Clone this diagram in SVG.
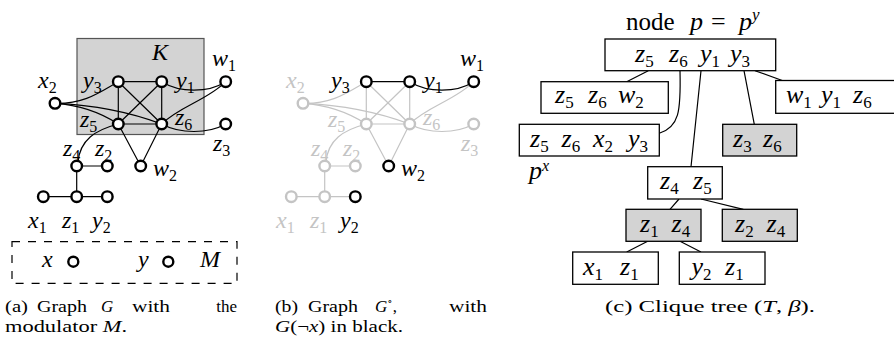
<svg xmlns="http://www.w3.org/2000/svg" width="894" height="347" viewBox="0 0 894 347">
<style>
text{font-family:"Liberation Serif","Times New Roman","DejaVu Serif",serif}
.m{font-style:italic;font-size:24px;fill:#000}
.g{fill:#c4c4c4}
.s{font-style:normal;font-size:16px}
.t{font-style:italic;font-size:26px;fill:#000}
.ts{font-style:normal;font-size:17px}
.up{font-style:normal}
.cap{font-size:17px;fill:#000}
.i{font-style:italic}
.n{fill:#fff;stroke:#000;stroke-width:2.4}
.ng{fill:#fff;stroke:#c4c4c4;stroke-width:2.4}
.e{fill:none;stroke:#000;stroke-width:1.2}
.eg{fill:none;stroke:#c4c4c4;stroke-width:1.2}
.box{fill:#fff;stroke:#000;stroke-width:1.3}
.gb{fill:#d3d3d3;stroke:#000;stroke-width:1.3}
</style>

<!-- Panel (a) -->
<rect id="K" x="77" y="38.5" width="127" height="96" fill="#d3d3d3" stroke="#555" stroke-width="1.2"/>
<rect id="M" x="12" y="241.7" width="225" height="41.6" fill="none" stroke="#000" stroke-width="1.2" stroke-dasharray="8 8"/>
<g id="edges-a">
<path class="e" d="M118.3,81.7 L161.7,81.7 M118.3,81.7 L118.3,124 M161.7,81.7 L161.7,124 M118.3,124 L161.7,124 M118.3,81.7 L161.7,124 M161.7,81.7 L118.3,124 M118.3,124 L140.7,166 M161.7,124 L140.7,166 M76.7,166 L107.3,166 M76.7,166 L76.7,196.7 M43.3,196.7 L107.3,196.7"/>
<path class="e" d="M55,103.3 C85,104 100,92 118.3,81.7"/>
<path class="e" d="M55,103.3 C80,105 100,112 118.3,124"/>
<path class="e" d="M55,103.3 C95,105 130,112 161.7,124"/>
<path class="e" d="M161.7,81.7 C180,93 208,93 225.7,81.7"/>
<path class="e" d="M161.7,124 C180,106 208,100 225.7,81.7"/>
<path class="e" d="M161.7,124 C180,134 208,134 225.7,124"/>
<path class="e" d="M118.3,124 C95,130 80,140 78,162"/>
</g>
<g id="a-y3"><circle class="n" cx="118.3" cy="81.7" r="5.3"/><text class="m" x="83" y="88">y<tspan class="s" dy="5">3</tspan></text></g>
<g id="a-y1"><circle class="n" cx="161.7" cy="81.7" r="5.3"/><text class="m" x="176" y="88">y<tspan class="s" dy="5">1</tspan></text></g>
<g id="a-w1"><circle class="n" cx="225.7" cy="81.7" r="5.3"/><text class="m" x="212" y="66">w<tspan class="s" dy="5">1</tspan></text></g>
<g id="a-x2"><circle class="n" cx="55" cy="103.3" r="5.3"/><text class="m" x="38" y="88">x<tspan class="s" dy="5">2</tspan></text></g>
<g id="a-z5"><circle class="n" cx="118.3" cy="124" r="5.3"/><text class="m" x="80" y="127">z<tspan class="s" dy="5">5</tspan></text></g>
<g id="a-z6"><circle class="n" cx="161.7" cy="124" r="5.3"/><text class="m" x="175" y="125">z<tspan class="s" dy="5">6</tspan></text></g>
<g id="a-z3"><circle class="n" cx="225.7" cy="124" r="5.3"/><text class="m" x="213" y="151">z<tspan class="s" dy="5">3</tspan></text></g>
<g id="a-w2"><circle class="n" cx="140.7" cy="166" r="5.3"/><text class="m" x="153" y="176">w<tspan class="s" dy="5">2</tspan></text></g>
<g id="a-z4"><circle class="n" cx="76.7" cy="166" r="5.3"/><text class="m" x="63" y="156">z<tspan class="s" dy="5">4</tspan></text></g>
<g id="a-z2"><circle class="n" cx="107.3" cy="166" r="5.3"/><text class="m" x="95" y="156">z<tspan class="s" dy="5">2</tspan></text></g>
<g id="a-x1"><circle class="n" cx="43.3" cy="196.7" r="5.3"/><text class="m" x="28" y="228">x<tspan class="s" dy="5">1</tspan></text></g>
<g id="a-z1"><circle class="n" cx="76.7" cy="196.7" r="5.3"/><text class="m" x="62" y="228">z<tspan class="s" dy="5">1</tspan></text></g>
<g id="a-y2"><circle class="n" cx="107.3" cy="196.7" r="5.3"/><text class="m" x="92" y="228">y<tspan class="s" dy="5">2</tspan></text></g>
<g id="a-x"><circle class="n" cx="73.3" cy="261.7" r="5"/><text class="m" x="42" y="267">x</text></g>
<g id="a-y"><circle class="n" cx="168.3" cy="261.7" r="5"/><text class="m" x="138" y="267">y</text></g>
<text class="m" x="200" y="267">M</text>
<text class="m" x="152" y="60">K</text>
<g id="cap-a">
<text class="cap" x="5" y="312" textLength="23" lengthAdjust="spacingAndGlyphs">(a)</text>
<text class="cap" x="37" y="312" textLength="50" lengthAdjust="spacingAndGlyphs">Graph</text>
<text class="cap i" x="101" y="312">G</text>
<text class="cap" x="132" y="312" textLength="38" lengthAdjust="spacingAndGlyphs">with</text>
<text class="cap" x="237" y="312" text-anchor="end">the</text>
<text class="cap" x="5" y="332" textLength="122" lengthAdjust="spacingAndGlyphs">modulator <tspan class="i">M</tspan>.</text>
</g>

<!-- Panel (b) -->
<g id="edges-b" transform="translate(248,0)">
<path class="eg" d="M118.3,81.7 L118.3,124 M161.7,81.7 L161.7,124 M118.3,124 L161.7,124 M118.3,81.7 L161.7,124 M161.7,81.7 L118.3,124 M118.3,124 L140.7,166 M161.7,124 L140.7,166 M76.7,166 L107.3,166 M76.7,166 L76.7,196.7 M43.3,196.7 L107.3,196.7"/>
<path class="eg" d="M55,103.3 C85,104 100,92 118.3,81.7"/>
<path class="eg" d="M55,103.3 C80,105 100,112 118.3,124"/>
<path class="eg" d="M55,103.3 C95,105 130,112 161.7,124"/>
<path class="eg" d="M161.7,124 C180,106 208,100 225.7,81.7"/>
<path class="eg" d="M161.7,124 C180,134 208,134 225.7,124"/>
<path class="eg" d="M118.3,124 C95,130 80,140 78,162"/>
<path class="e" d="M118.3,81.7 L161.7,81.7"/>
<path class="e" d="M161.7,81.7 C180,93 208,93 225.7,81.7"/>
</g>
<g transform="translate(248,0)">
<g id="b-y3"><circle class="n" cx="118.3" cy="81.7" r="5.3"/><text class="m" x="83" y="88">y<tspan class="s" dy="5">3</tspan></text></g>
<g id="b-y1"><circle class="n" cx="161.7" cy="81.7" r="5.3"/><text class="m" x="176" y="88">y<tspan class="s" dy="5">1</tspan></text></g>
<g id="b-w1"><circle class="n" cx="225.7" cy="81.7" r="5.3"/><text class="m" x="212" y="66">w<tspan class="s" dy="5">1</tspan></text></g>
<g id="b-x2"><circle class="ng" cx="55" cy="103.3" r="5.3"/><text class="m g" x="38" y="88">x<tspan class="s" dy="5">2</tspan></text></g>
<g id="b-z5"><circle class="ng" cx="118.3" cy="124" r="5.3"/><text class="m g" x="80" y="127">z<tspan class="s" dy="5">5</tspan></text></g>
<g id="b-z6"><circle class="ng" cx="161.7" cy="124" r="5.3"/><text class="m g" x="175" y="125">z<tspan class="s" dy="5">6</tspan></text></g>
<g id="b-z3"><circle class="ng" cx="225.7" cy="124" r="5.3"/><text class="m g" x="213" y="151">z<tspan class="s" dy="5">3</tspan></text></g>
<g id="b-w2"><circle class="n" cx="140.7" cy="166" r="5.3"/><text class="m" x="153" y="176">w<tspan class="s" dy="5">2</tspan></text></g>
<g id="b-z4"><circle class="ng" cx="76.7" cy="166" r="5.3"/><text class="m g" x="63" y="156">z<tspan class="s" dy="5">4</tspan></text></g>
<g id="b-z2"><circle class="ng" cx="107.3" cy="166" r="5.3"/><text class="m g" x="95" y="156">z<tspan class="s" dy="5">2</tspan></text></g>
<g id="b-x1"><circle class="ng" cx="43.3" cy="196.7" r="5.3"/><text class="m g" x="28" y="228">x<tspan class="s" dy="5">1</tspan></text></g>
<g id="b-z1"><circle class="ng" cx="76.7" cy="196.7" r="5.3"/><text class="m g" x="62" y="228">z<tspan class="s" dy="5">1</tspan></text></g>
<g id="b-y2"><circle class="n" cx="107.3" cy="196.7" r="5.3"/><text class="m" x="92" y="228">y<tspan class="s" dy="5">2</tspan></text></g>
</g>
<g id="cap-b">
<text class="cap" x="275" y="312" textLength="23" lengthAdjust="spacingAndGlyphs">(b)</text>
<text class="cap" x="308" y="312" textLength="50" lengthAdjust="spacingAndGlyphs">Graph</text>
<text class="cap" x="375" y="312"><tspan class="i">G</tspan><tspan font-size="11" dy="-7">∘</tspan><tspan dy="7">,</tspan></text>
<text class="cap" x="487" y="312" text-anchor="end" textLength="38" lengthAdjust="spacingAndGlyphs">with</text>
<text class="cap" x="275" y="332" textLength="128" lengthAdjust="spacingAndGlyphs"><tspan class="i">G</tspan>(¬<tspan class="i">x</tspan>) in black.</text>
</g>

<!-- Panel (c) -->
<g id="edges-c">
<path class="e" d="M648.3,70.7 L626.7,81.7 M701,70.7 L691,166.7 M744,70.7 L754.3,124.3 M755,70.7 L785.7,81.7 M679,199 L670,209.3 M701,199 L743.3,209.3 M647.7,241.3 L626.7,252 M680,241.3 L701,252"/>
<path class="e" d="M680,70.7 C681,112 679,127 659.3,133.3"/>
</g>
<text class="t" x="626" y="30"><tspan class="up" font-size="25">node</tspan> <tspan x="690">p</tspan><tspan class="up" x="711">=</tspan><tspan x="739">p</tspan><tspan font-size="17" dy="-10">y</tspan></text>
<g id="c-root"><rect class="box" x="605" y="39" width="170.7" height="31.7"/>
<text class="t" y="61.5"><tspan x="635">z</tspan><tspan class="ts" dy="5">5</tspan><tspan x="669" dy="-5">z</tspan><tspan class="ts" dy="5">6</tspan><tspan x="700" dy="-5">y</tspan><tspan class="ts" dy="5">1</tspan><tspan x="730" dy="-5">y</tspan><tspan class="ts" dy="5">3</tspan></text></g>
<g id="c-z5z6w2"><rect class="box" x="541" y="81.7" width="127.3" height="31.6"/>
<text class="t" y="103.3"><tspan x="555">z</tspan><tspan class="ts" dy="5">5</tspan><tspan x="588" dy="-5">z</tspan><tspan class="ts" dy="5">6</tspan><tspan x="618" dy="-5">w</tspan><tspan class="ts" dy="5">2</tspan></text></g>
<g id="c-w1y1z6"><rect class="box" x="775.7" y="80.5" width="130" height="32.8"/>
<text class="t" y="103.3"><tspan x="786">w</tspan><tspan class="ts" dy="5">1</tspan><tspan x="821" dy="-5">y</tspan><tspan class="ts" dy="5">1</tspan><tspan x="853" dy="-5">z</tspan><tspan class="ts" dy="5">6</tspan></text></g>
<g id="c-px"><rect class="box" x="519.3" y="124.3" width="140" height="31.7"/>
<text class="t" y="146.5"><tspan x="530">z</tspan><tspan class="ts" dy="5">5</tspan><tspan x="561.5" dy="-5">z</tspan><tspan class="ts" dy="5">6</tspan><tspan x="593" dy="-5">x</tspan><tspan class="ts" dy="5">2</tspan><tspan x="628" dy="-5">y</tspan><tspan class="ts" dy="5">3</tspan></text></g>
<text class="t" x="529" y="179" font-size="24">p<tspan font-size="16" dy="-8">x</tspan></text>
<g id="c-z3z6"><rect class="gb" x="722.7" y="124.3" width="74" height="31.7"/>
<text class="t" y="146.5"><tspan x="733">z</tspan><tspan class="ts" dy="5">3</tspan><tspan x="763" dy="-5">z</tspan><tspan class="ts" dy="5">6</tspan></text></g>
<g id="c-z4z5"><rect class="box" x="647.7" y="166.7" width="74.6" height="32.3"/>
<text class="t" y="188.5"><tspan x="660">z</tspan><tspan class="ts" dy="5">4</tspan><tspan x="693" dy="-5">z</tspan><tspan class="ts" dy="5">5</tspan></text></g>
<g id="c-z1z4"><rect class="gb" x="626" y="209.3" width="75" height="32"/>
<text class="t" y="231.5"><tspan x="640">z</tspan><tspan class="ts" dy="5">1</tspan><tspan x="671.5" dy="-5">z</tspan><tspan class="ts" dy="5">4</tspan></text></g>
<g id="c-z2z4"><rect class="gb" x="722.3" y="209.3" width="75" height="32"/>
<text class="t" y="231.5"><tspan x="735">z</tspan><tspan class="ts" dy="5">2</tspan><tspan x="766.5" dy="-5">z</tspan><tspan class="ts" dy="5">4</tspan></text></g>
<g id="c-x1z1"><rect class="box" x="572.7" y="252" width="85.6" height="32.3"/>
<text class="t" y="275"><tspan x="583">x</tspan><tspan class="ts" dy="5">1</tspan><tspan x="620" dy="-5">z</tspan><tspan class="ts" dy="5">1</tspan></text></g>
<g id="c-y2z1"><rect class="box" x="679.3" y="252" width="85.7" height="32.3"/>
<text class="t" y="275"><tspan x="691.5">y</tspan><tspan class="ts" dy="5">2</tspan><tspan x="725" dy="-5">z</tspan><tspan class="ts" dy="5">1</tspan></text></g>
<text id="cap-c" class="cap" x="605" y="312" textLength="210" lengthAdjust="spacingAndGlyphs">(c) Clique tree (<tspan class="i">T</tspan>, <tspan class="i">β</tspan>).</text>
</svg>
